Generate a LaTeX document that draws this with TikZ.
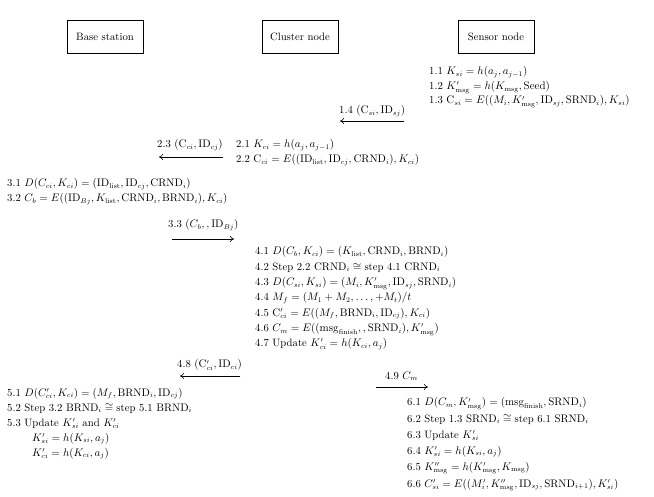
\documentclass[tikz,border=0pt]{standalone}
\usepackage{amsmath,amssymb}
\usetikzlibrary{arrows.meta}
\begin{document}
\begin{tikzpicture}[x=1pt,y=-1pt,
  every node/.style={font=\fontsize{10.7}{12}\selectfont, inner sep=0pt},
  entity/.style={draw, line width=0.6pt, minimum width=76pt, minimum height=33pt},
  stepline/.style={anchor=base west},
  msg/.style={line width=0.6pt, -{To[length=4pt,width=6pt]}}
]
\useasboundingbox (0,0) rectangle (654,497);
% entities
\node[entity] (bs) at (105,36.5) {Base station};
\node[entity] (cn) at (300,36.5) {Cluster node};
\node[entity] (sn) at (496,36.5) {Sensor node};
% block 1
\node[stepline] (l11) at (429,75) {1.1 $K_{si}=h(a_j,a_{j-1})$};
\node[stepline] (l12) at (429,89.5) {1.2 $K'_{\mathrm{msg}}=h(K_{\mathrm{msg}},\mathrm{Seed})$};
\node[stepline] (l13) at (429,104) {1.3 $\mathrm{C}_{si}=E((M_i,K'_{\mathrm{msg}},\mathrm{ID}_{sj},\mathrm{SRND}_i),K_{si})$};
% 1.4
\node[stepline] (m14) at (339,114) {1.4 $(\mathrm{C}_{si},\mathrm{ID}_{sj})$};
\coordinate (a14s) at (404,121);
\coordinate (a14e) at (340,121);
\draw[msg] (a14s) -- (a14e);
% 2.3
\node[stepline] (m23) at (157,148) {2.3 $(\mathrm{C}_{ci},\mathrm{ID}_{cj})$};
\coordinate (a23s) at (223,157);
\coordinate (a23e) at (159,157);
\draw[msg] (a23s) -- (a23e);
% block 2
\node[stepline] (l21) at (236,148) {2.1 $K_{ci}=h(a_j,a_{j-1})$};
\node[stepline] (l22) at (236,163) {2.2 $\mathrm{C}_{ci}=E((\mathrm{ID}_{\mathrm{list}},\mathrm{ID}_{cj},\mathrm{CRND}_i),K_{ci})$};
% block 3
\node[stepline] (l31) at (7,187) {3.1 $D(C_{ci},K_{ci})=(\mathrm{ID}_{\mathrm{list}},\mathrm{ID}_{cj},\mathrm{CRND}_i)$};
\node[stepline] (l32) at (7,202) {3.2 $C_b=E((\mathrm{ID}_{Bj},K_{\mathrm{list}},\mathrm{CRND}_i,\mathrm{BRND}_i),K_{ci})$};
% 3.3
\node[stepline] (m33) at (168,228) {3.3 $(C_b,,\mathrm{ID}_{Bj})$};
\coordinate (a33s) at (172,239);
\coordinate (a33e) at (234,239);
\draw[msg] (a33s) -- (a33e);
% block 4
\node[stepline] (l41) at (255,255) {4.1 $D(C_b,K_{ci})=(K_{\mathrm{list}},\mathrm{CRND}_i,\mathrm{BRND}_i)$};
\node[stepline] (l42) at (255,270.3) {4.2 Step 2.2 $\mathrm{CRND}_i\cong{}$step 4.1 $\mathrm{CRND}_i$};
\node[stepline] (l43) at (255,285.6) {4.3 $D(C_{si},K_{si})=(M_i,K'_{\mathrm{msg}},\mathrm{ID}_{sj},\mathrm{SRND}_i)$};
\node[stepline] (l44) at (255,300.9) {4.4 $M_f=(M_1+M_2,\ldots,+M_t)/t$};
\node[stepline] (l45) at (255,316.2) {4.5 $\mathrm{C}'_{ci}=E((M_f,\mathrm{BRND}_i,\mathrm{ID}_{cj}),K_{ci})$};
\node[stepline] (l46) at (255,331.5) {4.6 $C_m=E((\mathrm{msg}_{\mathrm{finish}},,\mathrm{SRND}_i),K'_{\mathrm{msg}})$};
\node[stepline] (l47) at (255,346.8) {4.7 Update $K'_{ci}=h(K_{ci},a_j)$};
% 4.8
\node[stepline] (m48) at (177,368) {4.8 $(\mathrm{C}'_{ci},\mathrm{ID}_{ci})$};
\coordinate (a48s) at (240,376);
\coordinate (a48e) at (180,376);
\draw[msg] (a48s) -- (a48e);
% 4.9
\node[stepline] (m49) at (385,379) {4.9 $C_m$};
\coordinate (a49s) at (376,387);
\coordinate (a49e) at (428,387);
\draw[msg] (a49s) -- (a49e);
% block 5
\node[stepline] (l51) at (7,396) {5.1 $D(C'_{ci},K_{ci})=(M_f,\mathrm{BRND}_i,\mathrm{ID}_{cj})$};
\node[stepline] (l52) at (7,411) {5.2 Step 3.2 $\mathrm{BRND}_i\cong{}$step 5.1 $\mathrm{BRND}_i$};
\node[stepline] (l53) at (7,426) {5.3 Update $K'_{si}$ and $K'_{ci}$};
\node[stepline] (l54) at (32,441) {$K'_{si}=h(K_{si},a_j)$};
\node[stepline] (l55) at (32,456) {$K'_{ci}=h(K_{ci},a_j)$};
% block 6
\node[stepline] (l61) at (407,406) {6.1 $D(C_m,K'_{\mathrm{msg}})=(\mathrm{msg}_{\mathrm{finish}},\mathrm{SRND}_i)$};
\node[stepline] (l62) at (407,422) {6.2 Step 1.3 $\mathrm{SRND}_i\cong{}$step 6.1 $\mathrm{SRND}_i$};
\node[stepline] (l63) at (407,438) {6.3 Update $K'_{si}$};
\node[stepline] (l64) at (407,454) {6.4 $K'_{si}=h(K_{si},a_j)$};
\node[stepline] (l65) at (407,470) {6.5 $K''_{\mathrm{msg}}=h(K'_{\mathrm{msg}},K_{\mathrm{msg}})$};
\node[stepline] (l66) at (407,487) {6.6 $C'_{si}=E((M'_i,K''_{\mathrm{msg}},\mathrm{ID}_{sj},\mathrm{SRND}_{i+1}),K'_{si})$};
\end{tikzpicture}
\end{document}
